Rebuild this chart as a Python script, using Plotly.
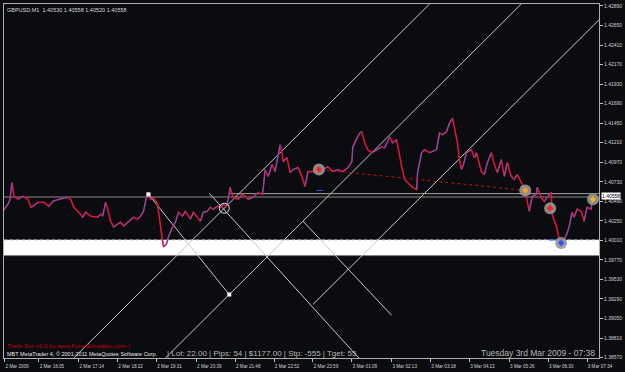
import plotly.graph_objects as go

# ---------------- data (bar index ~ one per pixel column, price) ----------------
bars = [2, 5, 7, 9, 11, 13, 17, 22, 27, 30, 32, 37, 43, 48, 52, 58, 67, 70, 73, 78,
        82, 85, 90, 97, 100, 102, 105, 107, 110, 113, 117, 120, 123, 128, 133, 137, 140, 143, 146, 147,
        150, 153, 157, 158, 160, 162, 163, 166, 168, 172, 175, 178, 182, 185, 187, 190, 193, 197, 200, 203,
        207, 210, 213, 217, 220, 223, 226, 228, 230, 233, 238, 242, 245, 248, 253, 258, 262, 263, 265, 268,
        272, 275, 280, 282, 283, 287, 290, 293, 298, 302, 305, 308, 313, 319, 323, 328, 333, 338, 343, 348,
        352, 353, 357, 360, 362, 365, 368, 372, 377, 382, 385, 390, 393, 397, 402, 405, 410, 413, 417, 418,
        422, 425, 430, 437, 440, 443, 447, 450, 453, 455, 458, 460, 462, 464, 467, 472, 475, 477, 482, 485,
        488, 492, 495, 498, 502, 505, 508, 512, 515, 518, 522, 526, 528, 530, 533, 537, 538, 542, 545, 550,
        552, 553, 555, 558, 560, 562, 567, 570, 573, 575, 578, 582, 585, 588, 592, 593, 594]
prices = [1.40368, 1.40429, 1.40453, 1.40514, 1.40721, 1.40551, 1.40514, 1.40551, 1.40514, 1.40417,
          1.40429, 1.40478, 1.40478, 1.40429, 1.40490, 1.40514, 1.40539, 1.40514, 1.40417, 1.40356,
          1.40295, 1.40356, 1.40307, 1.40295, 1.40332, 1.40307, 1.40478, 1.40393, 1.40246, 1.40173,
          1.40210, 1.40234, 1.40185, 1.40246, 1.40295, 1.40271, 1.40307, 1.40368, 1.40551, 1.40600,
          1.40514, 1.40539, 1.40453, 1.40356, 1.40149, 1.40003, 1.39930, 1.39966, 1.40051, 1.40173,
          1.40234, 1.40356, 1.40307, 1.40368, 1.40332, 1.40271, 1.40356, 1.40295, 1.40246, 1.40356,
          1.40368, 1.40417, 1.40393, 1.40429, 1.40417, 1.40453, 1.40429, 1.40514, 1.40661, 1.40539,
          1.40514, 1.40575, 1.40551, 1.40514, 1.40539, 1.40600, 1.40575, 1.40636, 1.40880, 1.40795,
          1.40941, 1.40855, 1.41184, 1.41087, 1.40977, 1.41026, 1.40843, 1.40880, 1.40904, 1.40795,
          1.40673, 1.40855, 1.40855, 1.40880, 1.40880, 1.40916, 1.40855, 1.40880, 1.40855, 1.40904,
          1.40977, 1.41160, 1.41270, 1.41331, 1.41343, 1.41209, 1.41124, 1.41087, 1.41124, 1.41160,
          1.41148, 1.41282, 1.41209, 1.41245, 1.40916, 1.40758, 1.40697, 1.40661, 1.40636, 1.40843,
          1.41087, 1.41124, 1.41087, 1.41124, 1.41331, 1.41306, 1.41343, 1.41452, 1.41513, 1.41404,
          1.41209, 1.41002, 1.40880, 1.40941, 1.41087, 1.41124, 1.41026, 1.41087, 1.40855, 1.40819,
          1.40965, 1.41087, 1.40941, 1.40843, 1.41002, 1.40795, 1.40965, 1.40795, 1.40758, 1.40819,
          1.40721, 1.40624, 1.40490, 1.40368, 1.40551, 1.40575, 1.40661, 1.40539, 1.40490, 1.40575,
          1.40600, 1.40332, 1.40246, 1.40149, 1.40027, 1.39978, 1.40064, 1.40173, 1.40356, 1.40295,
          1.40393, 1.40368, 1.40246, 1.40417, 1.40393, 1.40490, 1.40558]

price_ticks = [1.42890, 1.42650, 1.42410, 1.42170, 1.41930, 1.41690, 1.41450, 1.41210, 1.40970, 1.40730,
               1.40490, 1.40250, 1.40010, 1.39770, 1.39530, 1.39290, 1.39050, 1.38810, 1.38570]
price_tick_labels = ["1.42890", "1.42650", "1.42410", "1.42170", "1.41930", "1.41690", "1.41450", "1.41210",
                     "1.40970", "1.40730", "1.40490", "1.40250", "1.40010", "1.39770", "1.39530", "1.39290",
                     "1.39050", "1.38810", "1.38570"]
time_tick_bars = [3, 38, 78, 117, 156, 196, 235, 274, 313, 352, 392, 431, 470, 510, 549, 588]
time_tick_labels = ["2 Mar 2009", "2 Mar 16:05", "2 Mar 17:14", "2 Mar 18:22", "2 Mar 19:31", "2 Mar 20:39",
                    "2 Mar 21:48", "2 Mar 22:52", "2 Mar 23:59", "3 Mar 01:09", "3 Mar 02:13", "3 Mar 03:18",
                    "3 Mar 04:22", "3 Mar 05:26", "3 Mar 06:30", "3 Mar 07:34"]

# drawn objects (bar, price)
trend_x0 = [148, 165, 73, 209, 303, 313]
trend_p0 = [1.40575, 1.38565, 1.38565, 1.40588, 1.40246, 1.39223]
trend_x1 = [229, 522, 430, 359, 392, 600]
trend_p1 = [1.39345, 1.42914, 1.42914, 1.38565, 1.39089, 1.42720]
anchor_bars = [148, 229]
anchor_prices = [1.40575, 1.39345]
cross_bar = [224]
cross_price = [1.40405]
dotted_bars = [320, 526]
dotted_prices = [1.40880, 1.40624]
level_dark = 1.40542
level_light = 1.40584
level_light_start = 230
band_low, band_high = 1.39823, 1.40018
trade_bars = [319, 526, 551, 562, 594]
trade_prices = [1.40880, 1.40624, 1.40405, 1.39978, 1.40515]
trade_icon_colors = ["#ff2020", "#f0a020", "#ff2020", "#3050ff", "#f0b020"]
dash_bars = [320, 553]
dash_prices = [1.40624, 1.40015]
bid_price = 1.40558

BG = "#0b0c0f"
RED = "#dc143c"
BLUE = "#4a68e0"
FONT = "Liberation Sans"

fig = go.Figure()

# base line in red (slightly wider), rising segments in blue on top
fig.add_trace(go.Scatter(x=bars, y=prices, mode="lines", line=dict(color=RED, width=1.6),
                         hoverinfo="skip", showlegend=False))
bx, by = [], []
for i in range(len(bars) - 1):
    if prices[i + 1] > prices[i]:
        bx += [bars[i], bars[i + 1], None]
        by += [prices[i], prices[i + 1], None]
fig.add_trace(go.Scatter(x=bx, y=by, mode="lines", line=dict(color=BLUE, width=0.9),
                         hoverinfo="skip", showlegend=False))

# red dotted line between trades
fig.add_trace(go.Scatter(x=dotted_bars, y=dotted_prices, mode="lines",
                         line=dict(color="#c01020", width=1, dash="dot"), showlegend=False))
# anchor squares
fig.add_trace(go.Scatter(x=anchor_bars, y=anchor_prices, mode="markers",
                         marker=dict(symbol="square", size=4, color="white"), showlegend=False))
# intersection circle
fig.add_trace(go.Scatter(x=cross_bar, y=cross_price, mode="markers",
                         marker=dict(symbol="circle-open", size=10, color="#e0e0e0", line=dict(width=1)),
                         showlegend=False))
# trade markers
fig.add_trace(go.Scatter(x=trade_bars, y=trade_prices, mode="markers",
                         marker=dict(symbol="circle", size=12, color="rgba(150,150,150,0.9)"),
                         showlegend=False))
fig.add_trace(go.Scatter(x=trade_bars, y=trade_prices, mode="markers",
                         marker=dict(symbol="diamond", size=5, color=trade_icon_colors),
                         showlegend=False))
fig.add_trace(go.Scatter(x=dash_bars, y=dash_prices, mode="markers",
                         marker=dict(symbol="line-ew", size=5, line=dict(color="#3050ff", width=1)),
                         showlegend=False))

shapes = []
for x0, p0, x1, p1 in zip(trend_x0, trend_p0, trend_x1, trend_p1):
    shapes.append(dict(type="line", xref="x", yref="y", x0=x0, y0=p0, x1=x1, y1=p1,
                       line=dict(color="#c8c8c8", width=1), layer="below"))
shapes.append(dict(type="line", xref="paper", yref="y", x0=0, x1=1, y0=level_dark, y1=level_dark,
                   line=dict(color="#4a4a4a", width=2), layer="below"))
shapes.append(dict(type="line", xref="x", yref="y", x0=level_light_start, x1=600, y0=level_light,
                   y1=level_light, line=dict(color="#a8a8a8", width=1), layer="below"))
shapes.append(dict(type="rect", xref="paper", yref="y", x0=0, x1=1, y0=band_low, y1=band_high,
                   fillcolor="white", line=dict(width=0), layer="below"))
shapes.append(dict(type="line", xref="paper", yref="y", x0=0, x1=1, y0=band_high, y1=band_high,
                   line=dict(color="#909090", width=1, dash="dot"), layer="below"))
shapes.append(dict(type="line", xref="paper", yref="y", x0=0, x1=1, y0=band_low, y1=band_low,
                   line=dict(color="#808080", width=1), layer="below"))

annotations = [
    dict(text="GBPUSD,M1  1.40530 1.40558 1.40520 1.40558", xref="paper", yref="paper", x=0, y=1,
         xanchor="left", yanchor="top", xshift=1, yshift=-1, showarrow=False,
         font=dict(family=FONT, size=5.5, color="#d8d8d8")),
    dict(text="Trade Sim v2.0 by www.ForexEducation.com |", xref="paper", yref="paper", x=0, y=0.033,
         xanchor="left", yanchor="middle", xshift=1, showarrow=False,
         font=dict(family=FONT, size=6, color="#c00010")),
    dict(text="MBT MetaTrader 4, © 2001-2011 MetaQuotes Software Corp.", xref="paper", yref="paper",
         x=0, y=0.010, xanchor="left", yanchor="middle", xshift=1, showarrow=False,
         font=dict(family=FONT, size=5.5, color="#e8e8e8")),
    dict(text="| Lot: 22.00 | Pips: 54 | $1177.00 | Stp: -555 | Tget: 55", xref="x", yref="paper",
         x=165, y=0.014, xanchor="left", yanchor="middle", showarrow=False,
         font=dict(family=FONT, size=8, color="#b4b4b4")),
    dict(text="Tuesday 3rd Mar 2009 - 07:38", xref="x", yref="paper", x=598, y=0.014,
         xanchor="right", yanchor="middle", showarrow=False,
         font=dict(family=FONT, size=8.5, color="#b4b4b4")),
    dict(text="1.40558", xref="paper", yref="y", x=1, y=bid_price, xanchor="left", yanchor="middle",
         xshift=2, showarrow=False, bgcolor="white", borderpad=0,
         font=dict(family=FONT, size=5, color="black")),
]

fig.update_layout(
    width=625, height=372,
    margin=dict(l=3, r=25, t=3, b=12),
    paper_bgcolor=BG, plot_bgcolor=BG,
    shapes=shapes, annotations=annotations,
    showlegend=False,
    xaxis=dict(range=[3, 600], showgrid=False, zeroline=False, tickmode="array",
               tickvals=time_tick_bars, ticktext=time_tick_labels, ticks="outside", ticklen=3,
               tickcolor="#c0c0c0", ticklabelshift=13,
               tickfont=dict(family=FONT, size=4.6, color="#d0d0d0"),
               showline=True, linecolor="#b0b0b0", mirror=True),
    yaxis=dict(range=[1.38565, 1.42914], side="right", showgrid=False, zeroline=False,
               tickmode="array", tickvals=price_ticks, ticktext=price_tick_labels,
               ticks="outside", ticklen=3, tickcolor="#c0c0c0",
               tickfont=dict(family=FONT, size=5, color="#d0d0d0"),
               showline=True, linecolor="#b0b0b0", mirror=True),
)

fig.write_html("out.html")
